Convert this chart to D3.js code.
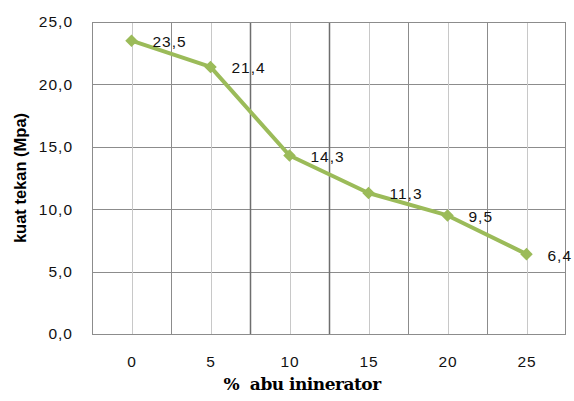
<!DOCTYPE html>
<html><head><meta charset="utf-8">
<script src="https://cdn.jsdelivr.net/npm/d3@7"></script>
<style>body{margin:0;background:#fff}svg{display:block}
.xt{font-family:"DejaVu Serif","Liberation Serif",serif;font-weight:bold;font-size:17px;letter-spacing:-0.5px}
</style>
</head><body>
<svg id="c" width="574" height="401"></svg>
<script>
const categories = ["0","5","10","15","20","25"];
const values = [23.5, 21.4, 14.3, 11.3, 9.5, 6.4];
const valueLabels = ["23,5","21,4","14,3","11,3","9,5","6,4"];
const yTicks = [0,5,10,15,20,25];
const yTickLabels = ["0,0","5,0","10,0","15,0","20,0","25,0"];

const svg = d3.select("#c");
const L = 92, R = 566, T = 22, B = 334;
const x = d3.scaleBand().domain(categories).range([L, R]).padding(0);
const y = d3.scaleLinear().domain([0,25]).range([B, T]);
const sans = "'Liberation Sans', Arial, sans-serif";

// horizontal gridlines
svg.append("g").selectAll("line").data(yTicks).join("line")
  .attr("x1", L).attr("x2", R)
  .attr("y1", d => Math.round(y(d))+0.5).attr("y2", d => Math.round(y(d))+0.5)
  .attr("stroke", "#8c8c8c").attr("stroke-width", 1);

// vertical gridlines at category centers
svg.append("g").selectAll("line").data(categories).join("line")
  .attr("x1", d => Math.round(x(d)+x.bandwidth()/2)+0.5)
  .attr("x2", d => Math.round(x(d)+x.bandwidth()/2)+0.5)
  .attr("y1", T).attr("y2", B)
  .attr("stroke", "#c8c8c8").attr("stroke-width", 1);

// vertical gridlines at category boundaries
const bounds = categories.slice(1).map(c => x(c));
svg.append("g").selectAll("line").data(bounds).join("line")
  .attr("x1", d => Math.round(d)+0.5).attr("x2", d => Math.round(d)+0.5)
  .attr("y1", T).attr("y2", B)
  .attr("stroke", (d,i) => (i===1||i===2) ? "#6e6e6e" : "#8c8c8c")
  .attr("stroke-width", (d,i) => (i===1||i===2) ? 1.5 : 1);

// plot border
svg.append("rect").attr("x", L+0.5).attr("y", T+0.5)
  .attr("width", R-L-1).attr("height", B-T)
  .attr("fill", "none").attr("stroke", "#8c8c8c");

// y axis labels
svg.append("g").selectAll("text").data(yTicks).join("text")
  .attr("x", 73).attr("y", d => y(d))
  .attr("dy", "0.35em").attr("text-anchor", "end")
  .attr("font-family", sans).attr("font-size", 15.5)
  .attr("letter-spacing", 1)
  .attr("fill", "#111")
  .text((d,i) => yTickLabels[i]);

// x axis labels
svg.append("g").selectAll("text").data(categories).join("text")
  .attr("x", d => x(d)+x.bandwidth()/2+0.5).attr("y", 362)
  .attr("dy", "0.35em").attr("text-anchor", "middle")
  .attr("font-family", sans).attr("font-size", 15.5)
  .attr("letter-spacing", 1)
  .attr("fill", "#111")
  .text(d => d);

// line
const pts = categories.map((c,i) => [x(c)+x.bandwidth()/2, y(values[i])]);
svg.append("path").datum(pts)
  .attr("d", d3.line())
  .attr("fill", "none").attr("stroke", "#9bbb59").attr("stroke-width", 4)
  .attr("stroke-linejoin", "round");

// markers (diamonds)
svg.append("g").selectAll("path").data(pts).join("path")
  .attr("d", d3.symbol().type(d3.symbolDiamond2).size(100))
  .attr("transform", d => `translate(${d[0]},${d[1]})`)
  .attr("fill", "#9bbb59");

// data labels
svg.append("g").selectAll("text").data(pts).join("text")
  .attr("x", d => d[0]+21).attr("y", d => d[1]+1)
  .attr("dy", "0.35em")
  .attr("font-family", sans).attr("font-size", 15.5)
  .attr("letter-spacing", 1)
  .attr("fill", "#111")
  .text((d,i) => valueLabels[i]);

// axis titles
svg.append("text").attr("class", "xt").attr("x", 302).attr("y", 390)
  .attr("text-anchor", "middle")
  .attr("xml:space", "preserve")
  .text("%  abu ininerator");

svg.append("text")
  .attr("transform", "translate(26,178) rotate(-90)")
  .attr("text-anchor", "middle")
  .attr("font-family", sans)
  .attr("font-weight", "bold").attr("font-size", 16.5)
  .text("kuat tekan (Mpa)");
</script>
</body></html>
